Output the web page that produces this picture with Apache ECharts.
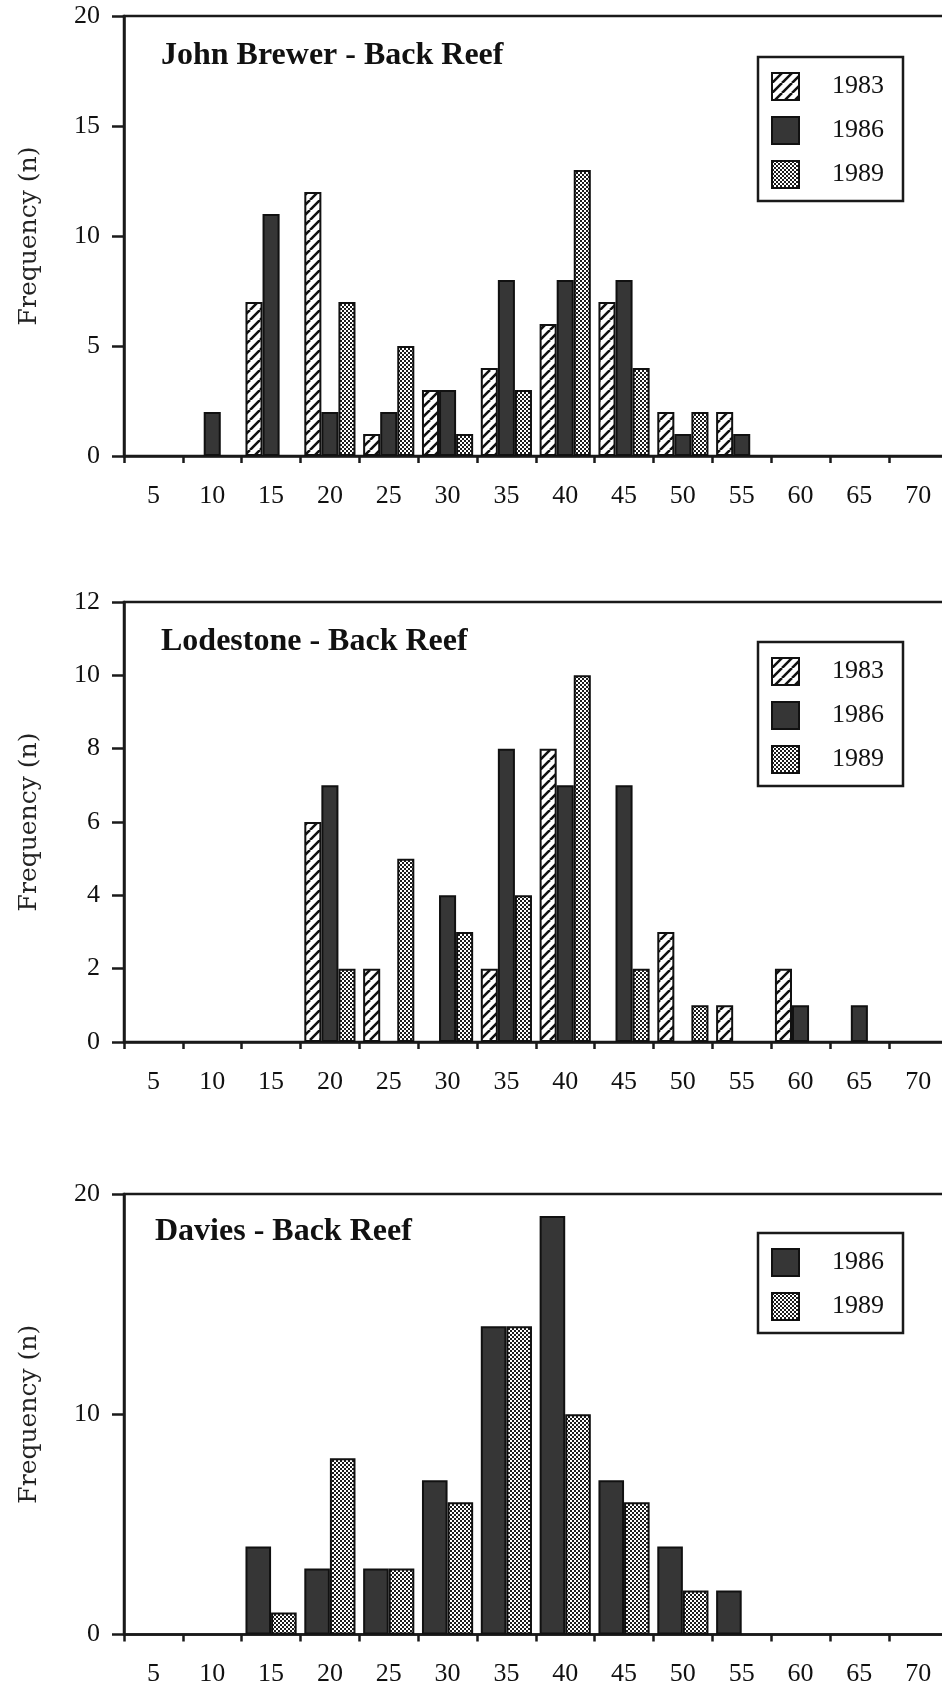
<!DOCTYPE html>
<html><head><meta charset="utf-8">
<script src="https://cdn.jsdelivr.net/npm/echarts@6/dist/echarts.min.js"></script>
<style>html,body{margin:0;padding:0;background:#fff;overflow:hidden;}#c{width:948px;height:1688px;}</style>
</head><body><div id="c"></div>
<script>
// ---- data ----
const sizeClasses = ['5','10','15','20','25','30','35','40','45','50','55','60','65','70'];
const yAxisName = 'Frequency (n)';

const jbTitle = 'John Brewer - Back Reef';
const jb1983 = [0,0,7,12,1,3,4,6,7,2,2,0,0,0];
const jb1986 = [0,2,11,2,2,3,8,8,8,1,1,0,0,0];
const jb1989 = [0,0,0,7,5,1,3,13,4,2,0,0,0,0];
const jbYMax = 20, jbYStep = 5;

const lsTitle = 'Lodestone - Back Reef';
const ls1983 = [0,0,0,6,2,0,2,8,0,3,1,2,0,0];
const ls1986 = [0,0,0,7,0,4,8,7,7,0,0,1,1,0];
const ls1989 = [0,0,0,2,5,3,4,10,2,1,0,0,0,0];
const lsYMax = 12, lsYStep = 2;

const dvTitle = 'Davies - Back Reef';
const dv1986 = [0,0,4,3,3,7,14,19,7,4,2,0,0,0];
const dv1989 = [0,0,1,8,3,6,14,10,6,2,0,0,0,0];
const dvYMax = 20, dvYStep = 10;

// ---- patterns ----
function hatch(){
  const s=10, c=document.createElement('canvas'); c.width=c.height=s;
  const g=c.getContext('2d'); g.fillStyle='#fff'; g.fillRect(0,0,s,s);
  g.strokeStyle='#111'; g.lineWidth=2.6; g.beginPath();
  for(let k=-1;k<=1;k++){ g.moveTo(k*s, s); g.lineTo(k*s+s, 0); }
  g.stroke(); return {image:c, repeat:'repeat'};
}
function stipple(){
  const c=document.createElement('canvas'); c.width=c.height=4;
  const g=c.getContext('2d'); g.fillStyle='#fff'; g.fillRect(0,0,4,4);
  g.fillStyle='#1c1c1c'; g.fillRect(0,0,2,2); g.fillRect(2,2,2,2);
  return {image:c, repeat:'repeat'};
}
const fills = {'1983': hatch(), '1986': '#363636', '1989': stipple()};

const FONT = 'Liberation Serif';
const grids = [
  {left:124, top:16, width:823.6, height:440},
  {left:124, top:602, width:823.6, height:440},
  {left:124, top:1194, width:823.6, height:440.5}
];
const yCfg = [[jbYMax,jbYStep],[lsYMax,lsYStep],[dvYMax,dvYStep]];

function bar(name, data, i){
  return {type:'bar', name, xAxisIndex:i, yAxisIndex:i,
    data:data.map(v=>v===0?'-':v), barGap:'0%', barCategoryGap:'13%',
    itemStyle:{color:fills[name], borderColor:'#111', borderWidth:2},
    emphasis:{disabled:true}, silent:true};
}
function legend(top, names){
  return {orient:'vertical', left:758, top, data:names, icon:'rect',
    itemWidth:27, itemHeight:27, itemGap:15, padding:[15,19,12,13],
    borderColor:'#1a1a1a', borderWidth:2.5, selectedMode:false,
    textStyle:{fontFamily:FONT, fontSize:26, color:'#111', padding:[0,0,0,28]}};
}
function title(text, left, top){
  return {text, left, top, padding:0,
    textStyle:{fontFamily:FONT, fontSize:32, fontWeight:'bold', color:'#111'}};
}

const option = {
  animation:false,
  title:[title(jbTitle,161,40), title(lsTitle,161,626), title(dvTitle,155,1216)],
  legend:[legend(57,['1983','1986','1989']), legend(642,['1983','1986','1989']), legend(1233,['1986','1989'])],
  grid: grids.map(g=>Object.assign({show:true, borderColor:'#1a1a1a', borderWidth:2.5, backgroundColor:'transparent', outerBoundsMode:'none', containLabel:false}, g)),
  xAxis: grids.map((g,i)=>({type:'category', gridIndex:i, data:sizeClasses, boundaryGap:true,
    axisLine:{show:true, lineStyle:{color:'#1a1a1a', width:2.5}},
    axisTick:{show:true, length:7, lineStyle:{color:'#1a1a1a', width:2.5}},
    axisLabel:{fontFamily:FONT, fontSize:26, color:'#111', margin:27, interval:0},
    splitLine:{show:false}})),
  yAxis: grids.map((g,i)=>({type:'value', gridIndex:i, min:0, max:yCfg[i][0], interval:yCfg[i][1],
    name:yAxisName, nameLocation:'middle', nameGap:82, nameRotate:90,
    nameTextStyle:{fontFamily:'DejaVu Serif', fontSize:25, color:'#222'},
    axisLine:{show:true, lineStyle:{color:'#1a1a1a', width:2.5}},
    axisTick:{show:true, length:12, lineStyle:{color:'#1a1a1a', width:2.5}},
    axisLabel:{fontFamily:FONT, fontSize:26, color:'#111', margin:24},
    splitLine:{show:false}})),
  series:[
    bar('1983', jb1983, 0), bar('1986', jb1986, 0), bar('1989', jb1989, 0),
    bar('1983', ls1983, 1), bar('1986', ls1986, 1), bar('1989', ls1989, 1),
    bar('1986', dv1986, 2), bar('1989', dv1989, 2)
  ]
};
const chart = echarts.init(document.getElementById('c'), null, {renderer:'canvas'});
chart.setOption(option);
</script></body></html>
